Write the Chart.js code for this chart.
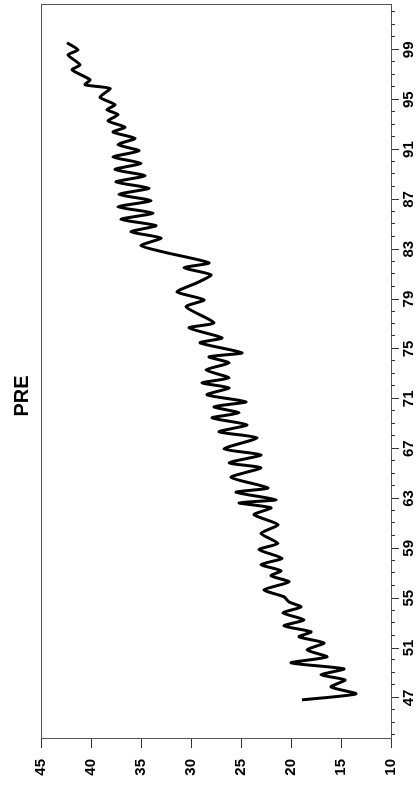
<!DOCTYPE html>
<html>
<head>
<meta charset="utf-8">
<script src="https://cdn.jsdelivr.net/npm/chart.js@4/dist/chart.umd.min.js"></script>
<style>
  html, body { margin: 0; padding: 0; background: #fff; overflow: hidden; }
  /* chart is drawn landscape, then turned a quarter turn to the left */
  #wrap {
    position: absolute; left: 0; top: 0;
    width: 787px; height: 416px;
    transform-origin: top left;
    transform: translate(0, 787px) rotate(-90deg);
  }
</style>
</head>
<body>
<div id="wrap"><canvas id="chart" width="787" height="416"></canvas></div>
<script>
// Dati
const weeks = [46.84, 47.32, 47.88, 48.44, 48.85, 49.33, 49.81, 50.29, 50.85, 51.41,
  51.90, 52.30, 52.78, 53.26, 53.82, 54.30, 54.70, 55.11, 55.67, 56.31,
  56.80, 57.20, 57.70, 58.20, 58.90, 59.40, 60.20, 60.90, 61.70, 62.25,
  62.65, 62.90, 63.50, 63.85, 64.70, 65.46, 65.86, 66.50, 66.98, 67.87,
  68.35, 68.91, 69.47, 69.87, 70.36, 70.76, 71.32, 71.88, 72.28, 72.68,
  73.32, 73.88, 74.37, 74.69, 75.49, 75.89, 76.69, 77.10, 78.38, 78.94,
  79.58, 80.31, 80.95, 81.51, 81.91, 82.75, 83.30, 83.90, 84.40, 84.90,
  85.40, 85.90, 86.40, 86.90, 87.40, 87.90, 88.40, 88.90, 89.40, 89.90,
  90.40, 90.90, 91.40, 91.90, 92.40, 92.80, 93.30, 93.80, 94.20, 94.60,
  95.20, 95.90, 96.20, 96.60, 97.40, 97.80, 98.60, 99.00, 99.57];

const values = [18.9, 13.5, 16.0, 14.6, 17.0, 14.7, 20.0, 16.4, 18.4, 16.7,
  19.2, 18.0, 20.7, 18.7, 20.8, 19.0, 20.2, 20.7, 22.7, 20.2,
  22.0, 21.0, 23.0, 20.9, 23.2, 21.3, 23.0, 21.3, 23.7, 22.0,
  25.2, 21.5, 25.5, 22.3, 26.0, 23.0, 26.2, 23.0, 26.7, 23.4,
  27.2, 24.4, 27.9, 25.2, 27.7, 24.5, 28.4, 26.2, 28.9, 26.2,
  28.5, 26.2, 28.2, 24.9, 29.1, 26.9, 30.2, 27.7, 30.5, 28.7,
  31.4, 29.4, 28.0, 30.7, 28.2, 32.6, 35.0, 33.0, 36.0, 33.5,
  37.0, 33.8, 37.3, 34.0, 37.2, 34.2, 37.5, 34.6, 37.6, 35.0,
  37.8, 35.2, 37.3, 35.6, 37.8, 36.6, 38.3, 37.3, 38.4, 37.6,
  39.1, 38.1, 40.6, 40.1, 41.9, 41.1, 42.3, 41.3, 42.4];

const xLabels = [47, 51, 55, 59, 63, 67, 71, 75, 79, 83, 87, 91, 95, 99];
const xRange = [43.7, 102.6];
const yRange = [10, 45];
const yStep = 5;
const title = 'PRE';

const FONT = 'Arial, "Liberation Sans", sans-serif';

// cornice intorno all'area del grafico + tacche minori sull'asse x
const framePlugin = {
  id: 'frame',
  afterDraw(chart) {
    const { ctx, chartArea: a, scales } = chart;
    ctx.save();
    ctx.strokeStyle = '#555';
    ctx.lineWidth = 1;
    ctx.strokeRect(a.left + 0.5, a.top + 0.5, a.right - a.left, a.bottom - a.top);
    ctx.strokeStyle = '#333';
    ctx.beginPath();
    for (let v = Math.ceil(xRange[0]); v <= xRange[1]; v++) {
      if (xLabels.includes(v)) continue;
      const px = Math.round(scales.x.getPixelForValue(v)) + 0.5;
      ctx.moveTo(px, a.bottom);
      ctx.lineTo(px, a.bottom + 4);
    }
    ctx.stroke();
    ctx.restore();
  }
};

new Chart(document.getElementById('chart'), {
  type: 'line',
  data: {
    datasets: [{
      data: weeks.map((w, i) => ({ x: w, y: values[i] })),
      borderColor: '#000',
      borderWidth: 3,
      pointRadius: 0,
      tension: 0.2,
      fill: false
    }]
  },
  options: {
    responsive: false,
    animation: false,
    devicePixelRatio: 1,
    layout: { padding: { left: 0, right: 5, top: 0, bottom: 0 } },
    plugins: {
      legend: { display: false },
      tooltip: { enabled: false },
      title: {
        display: true,
        text: title,
        color: '#000',
        font: { family: FONT, size: 20, weight: 'bold' },
        padding: { top: 10, bottom: 7 }
      }
    },
    scales: {
      x: {
        type: 'linear',
        position: 'bottom',
        min: xRange[0],
        max: xRange[1],
        afterBuildTicks(scale) {
          scale.ticks = xLabels.map(v => ({ value: v }));
        },
        afterFit(scale) { scale.height = 25; },
        ticks: {
          autoSkip: false,
          maxRotation: 0,
          padding: 1,
          color: '#000',
          font: { family: FONT, size: 15, weight: 'bold' },
          callback: v => String(v)
        },
        grid: { drawOnChartArea: false, tickLength: 8, tickColor: '#333' },
        border: { color: '#555' }
      },
      y: {
        min: yRange[0],
        max: yRange[1],
        afterFit(scale) { scale.width = 48; },
        ticks: {
          stepSize: yStep,
          padding: 11,
          color: '#000',
          font: { family: FONT, size: 15, weight: 'bold' }
        },
        grid: { drawOnChartArea: false, tickLength: 9, tickColor: '#333' },
        border: { color: '#555' }
      }
    }
  },
  plugins: [framePlugin]
});
</script>
</body>
</html>
